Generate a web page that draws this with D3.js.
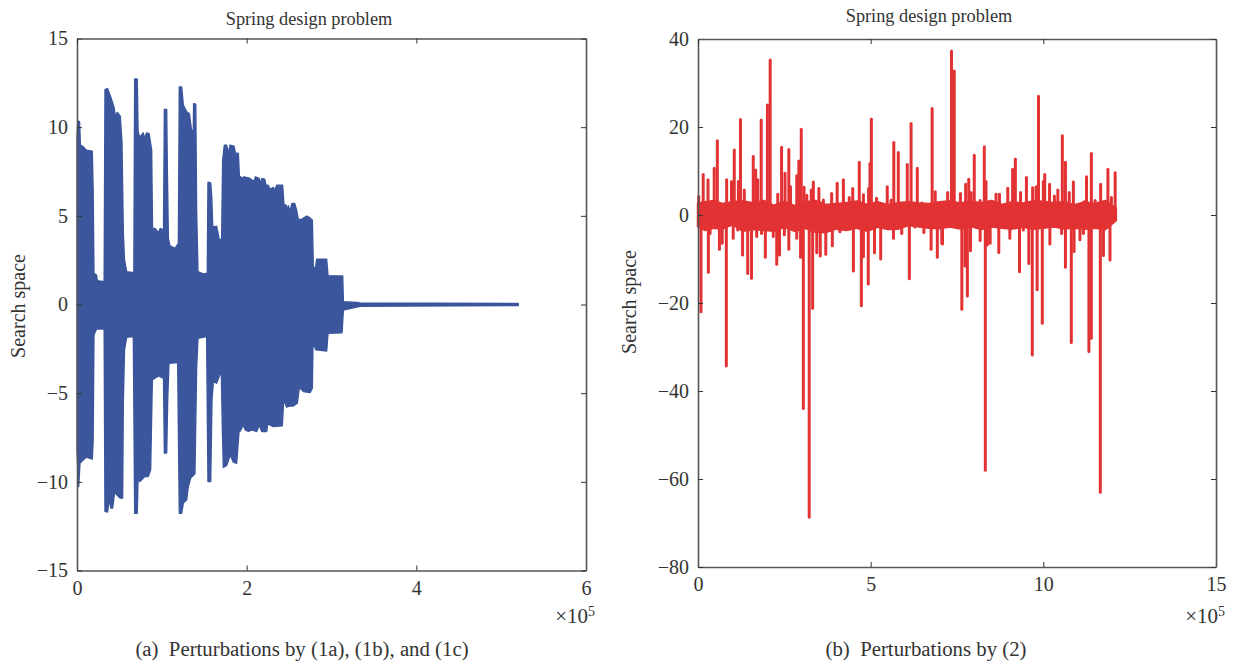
<!DOCTYPE html>
<html>
<head>
<meta charset="utf-8">
<script src="https://cdn.jsdelivr.net/npm/d3@7"></script>
<style>
  html, body { margin: 0; background: #fff; }
  text { font-family: "Liberation Serif", serif; fill: #333; }
</style>
</head>
<body>
<div id="chart"></div>
<script>
// (a) upper and lower envelope of the perturbation trace, [x in 1e5, value]
const upperEnvelope = [[0,1],[0,7.95],[0,9.46],[.01,10.36],[.03,10.3],[.04,8.99],[.075,8.89],[.11,8.7],[.18,8.65],[.19,6.45],[.2,1.76],[.23,1.66],[.24,1.34],[.32,1.29],[.33,12.12],[.36,12.18],[.39,11.8],[.41,11.52],[.44,11.05],[.45,10.62],[.475,10.83],[.51,10.62],[.53,9.17],[.546,4.01],[.56,2.51],[.585,1.85],[.67,1.79],[.68,12.72],[.71,12.72],[.72,9.74],[.74,9.42],[.78,9.68],[.8,9.36],[.82,9.68],[.85,9.64],[.88,8.7],[.89,4.29],[.92,4.29],[.96,4.05],[.98,4.29],[1.02,4.2],[1.03,11],[1.057,11],[1.065,7.58],[1.077,3.73],[1.096,3.31],[1.155,3.16],[1.195,3.45],[1.206,12.27],[1.234,12.27],[1.253,11.24],[1.293,10.86],[1.324,10.77],[1.352,9.77],[1.371,9.83],[1.375,11.33],[1.4,11.3],[1.41,5.32],[1.426,1.85],[1.489,1.72],[1.536,1.76],[1.544,6.9],[1.576,6.86],[1.588,6.08],[1.6,4.38],[1.646,4.42],[1.678,3.64],[1.705,3.68],[1.717,8.14],[1.737,8.99],[1.764,8.99],[1.784,8.52],[1.804,8.99],[1.851,8.93],[1.866,8.55],[1.902,8.52],[1.914,7.24],[1.953,7.11],[1.969,7.2],[2.04,7.11],[2.086,6.92],[2.102,7.2],[2.149,7.11],[2.165,6.83],[2.181,7.11],[2.212,7.07],[2.228,6.73],[2.255,6.73],[2.275,6.49],[2.314,6.6],[2.334,6.45],[2.354,6.73],[2.424,6.73],[2.44,5.61],[2.464,5.61],[2.472,5.32],[2.491,5.57],[2.511,5.23],[2.534,5.7],[2.566,5.7],[2.589,5.32],[2.609,4.8],[2.648,4.8],[2.707,4.99],[2.739,4.91],[2.774,4.76],[2.786,2.09],[2.813,2.09],[2.825,2.56],[2.943,2.56],[2.959,1.62],[3.132,1.61],[3.14,.16],[3.297,.12],[3.336,.09],[5.2,.06]];
const lowerEnvelope = [[0,-1],[0,-6.51],[0,-8.29],[.02,-10.26],[.035,-8.95],[.075,-8.76],[.11,-8.61],[.18,-8.72],[.19,-7.73],[.2,-1.72],[.23,-1.38],[.32,-1.38],[.33,-11.67],[.36,-11.71],[.38,-10.98],[.4,-11.48],[.42,-11.48],[.444,-10.54],[.468,-10.73],[.51,-10.92],[.538,-10.92],[.546,-5.47],[.56,-2.56],[.585,-1.85],[.664,-1.81],[.68,-11.77],[.71,-11.77],[.72,-9.79],[.74,-9.98],[.8,-9.7],[.84,-9.7],[.868,-9.32],[.888,-4.25],[.92,-4.16],[.96,-4.03],[1.02,-4.16],[1.03,-8.38],[1.057,-8.38],[1.069,-5.38],[1.084,-3.31],[1.187,-3.28],[1.195,-6.98],[1.206,-11.77],[1.234,-11.77],[1.253,-11.2],[1.293,-11.01],[1.312,-10.26],[1.34,-9.79],[1.39,-9.55],[1.41,-3.6],[1.426,-1.91],[1.528,-1.81],[1.544,-9.98],[1.576,-9.98],[1.591,-5.38],[1.607,-4.35],[1.646,-4.44],[1.701,-3.73],[1.713,-6.88],[1.725,-9.19],[1.764,-9.08],[1.807,-8.48],[1.843,-8.89],[1.882,-8.95],[1.91,-7.16],[1.921,-7.16],[1.961,-6.79],[1.984,-7.07],[2.02,-7.16],[2.059,-7.07],[2.118,-7.16],[2.149,-6.79],[2.177,-7.16],[2.236,-7.16],[2.248,-6.73],[2.314,-6.88],[2.42,-6.84],[2.436,-5.38],[2.472,-5.79],[2.511,-5.72],[2.55,-5.72],[2.597,-5.57],[2.621,-4.67],[2.668,-4.91],[2.747,-4.97],[2.774,-4.72],[2.782,-2.19],[2.817,-2.56],[2.943,-2.62],[2.959,-1.62],[3.124,-1.59],[3.14,-.31],[3.297,-.14],[3.336,-.1],[5.2,-.06]];

// (b) central band [x in 1e5, top, bottom] and the spikes leaving it [x in 1e5, value]
const centralBand = [[0,2.6,-2.6],[.2,2.9,-3.4],[.45,3.2,-2.9],[.7,2.5,-3.1],[1,2.9,-2.1],[1.3,3.1,-3.6],[1.6,2.7,-3.2],[1.9,3.2,-3.4],[2.2,2.1,-3.6],[2.5,3,-2.7],[2.8,2,-3.6],[3.1,2.9,-2.9],[3.4,3.2,-3.8],[3.7,2.3,-3.9],[4,2.5,-3.1],[4.3,2.7,-3.4],[4.6,3.1,-2.9],[4.9,2.3,-3.6],[5.2,2.9,-2.7],[5.5,2.2,-3.2],[5.8,2.7,-3.1],[6.1,2.9,-2.3],[6.4,2.6,-2.6],[6.7,2.5,-2.9],[7,2.9,-3],[7.3,3.1,-2.6],[7.6,2.6,-3.1],[7.9,3.1,-2.5],[8.2,2.7,-3.2],[8.5,3.2,-2.6],[8.8,2.3,-2.9],[9.1,2.9,-3.1],[9.4,2.6,-2.7],[9.7,3.1,-3.1],[10,3,-2.9],[10.3,2.7,-2.6],[10.6,2.9,-3],[10.9,2.2,-2.9],[11.2,2.9,-3.1],[11.5,2.5,-2.9],[11.8,3.2,-3.2],[12.1,1.5,-1.2]];
const upSpikes = [[.02,4.2],[.15,9.2],[.29,8],[.47,10.6],[.56,16.9],[.83,8],[.97,7.6],[1.05,14.8],[1.17,7.6],[1.23,21.7],[1.34,5.7],[1.6,13.3],[1.67,10.2],[1.73,8],[1.83,21.6],[2.01,25],[2.09,35.2],[2.31,4.7],[2.42,15.4],[2.52,9.5],[2.63,14.9],[2.68,6.4],[2.86,8.9],[2.92,12.3],[2.99,19.5],[3.07,6.3],[3.15,4.5],[3.28,5.7],[3.34,7.5],[3.5,6],[3.63,3.4],[3.87,4.9],[4.03,7.2],[4.21,8],[4.38,4],[4.48,6],[4.67,12],[4.79,4.6],[4.94,6],[4.98,11.7],[5.02,21.8],[5.17,3.8],[5.48,6.4],[5.59,3.4],[5.67,16.5],[5.8,14.2],[6.06,11.5],[6.17,20.8],[6.35,10.6],[6.48,2.7],[6.78,24.2],[6.87,5.3],[7.23,5.1],[7.34,37.3],[7.42,32.7],[7.6,4.9],[7.75,7],[7.84,8.1],[7.91,5.1],[8,13.6],[8.17,3.3],[8.29,15.5],[8.34,7.6],[8.63,4.7],[8.73,4.7],[8.97,6.1],[9.11,10.4],[9.19,12.7],[9.34,5.1],[9.51,8.5],[9.69,6.2],[9.79,6.4],[9.86,27],[10,7.6],[10.04,9.2],[10.18,7],[10.32,4.3],[10.42,5.7],[10.55,18],[10.64,12],[10.75,5.1],[10.87,7.5],[11.18,3],[11.25,8.7],[11.39,14],[11.5,3.3],[11.66,7],[11.87,10.4],[11.97,4],[12.08,9.6]];
const downSpikes = [[.087,-21.97],[.3,-13],[.35,-4.2],[.62,-7.8],[.7,-6.4],[.82,-34.3],[1.02,-5.3],[1.15,-3.4],[1.29,-9.1],[1.44,-13.3],[1.55,-14.4],[1.7,-4.9],[1.84,-4.2],[1.95,-9.6],[2.18,-4.9],[2.28,-11.2],[2.36,-9.1],[2.5,-4.5],[2.63,-7.8],[2.86,-5.3],[2.97,-9.6],[3.05,-44],[3.22,-68.7],[3.32,-21.2],[3.44,-8.6],[3.54,-9.3],[3.7,-8.9],[3.89,-7],[4.11,-3.8],[4.5,-12.7],[4.73,-20.6],[4.79,-9.5],[4.93,-15.7],[5.11,-8.6],[5.29,-10],[5.66,-5.3],[5.9,-4.2],[6.12,-14.5],[6.28,-2.7],[6.54,-4],[6.75,-7.8],[6.93,-9.6],[7.06,-6.4],[7.08,-6.6],[7.64,-21.4],[7.73,-11.6],[7.8,-18.4],[7.89,-8.1],[8.17,-5.8],[8.32,-58],[8.38,-6.8],[8.46,-6.4],[8.71,-8.5],[9.03,-5.3],[9.31,-12.9],[9.42,-3.4],[9.58,-11],[9.68,-31.8],[9.82,-17],[9.97,-24.6],[10.19,-6.6],[10.53,-4.2],[10.64,-11.9],[10.81,-29],[10.89,-8.3],[11.06,-5.6],[11.16,-4.2],[11.32,-31],[11.39,-28],[11.65,-63],[11.74,-9.2],[11.93,-10.2]];

const titleText = "Spring design problem";
const yLabelText = "Search space";
const capA = "(a)  Perturbations by (1a), (1b), and (1c)";
const capB = "(b)  Perturbations by (2)";
const ticksAX = [0, 2, 4, 6];
const ticksAY = [-15, -10, -5, 0, 5, 10, 15];
const ticksBX = [0, 5, 10, 15];
const ticksBY = [-80, -60, -40, -20, 0, 20, 40];

const BLUE = "#3b569d";
const RED = "#e23234";
const fmt = d => (d < 0 ? "\u2212" + Math.abs(d) : "" + d);

const svg = d3.select("#chart").append("svg")
  .attr("width", 1241).attr("height", 665)
  .style("display", "block");

// frame, mirrored ticks and the texts shared by both panels
function drawPanel(box, xDomain, yDomain, xTicks, yTicks, o) {
  const x = d3.scaleLinear().domain(xDomain).range([box.left, box.right]);
  const y = d3.scaleLinear().domain(yDomain).range([box.bottom, box.top]);
  const g = svg.append("g");
  const marks = g.append("g");

  const styleAxis = sel => {
    sel.select(".domain").attr("stroke", "#555").attr("stroke-width", 1.6);
    sel.selectAll(".tick line").attr("stroke", "#333").attr("stroke-width", 1);
    sel.selectAll("text").style("font-size", "20px");
  };
  g.append("g").attr("transform", `translate(0,${box.bottom})`)
    .call(d3.axisBottom(x).tickValues(xTicks).tickSize(-5).tickSizeOuter(0).tickPadding(10).tickFormat(fmt))
    .call(styleAxis);
  g.append("g").attr("transform", `translate(${box.left},0)`)
    .call(d3.axisLeft(y).tickValues(yTicks).tickSize(-5).tickSizeOuter(0).tickPadding(9).tickFormat(fmt))
    .call(styleAxis);
  g.append("g").attr("transform", `translate(0,${box.top})`)
    .call(d3.axisTop(x).tickValues(xTicks).tickSize(-5).tickSizeOuter(0).tickFormat(""))
    .call(styleAxis);
  g.append("g").attr("transform", `translate(${box.right},0)`)
    .call(d3.axisRight(y).tickValues(yTicks).tickSize(-5).tickSizeOuter(0).tickFormat(""))
    .call(styleAxis);

  g.append("text").attr("x", o.titleX).attr("y", o.titleY)
    .attr("text-anchor", "middle").style("font-size", "18.3px").text(titleText);
  g.append("text").attr("transform", `translate(${o.labelX},${o.labelY}) rotate(-90)`)
    .attr("text-anchor", "middle").style("font-size", "20px").text(yLabelText);
  const mult = g.append("text").attr("x", box.right + 9).attr("y", 623)
    .attr("text-anchor", "end").style("font-size", "21px");
  mult.append("tspan").text("\u00d710");
  mult.append("tspan").attr("dy", -7).style("font-size", "14px").text("5");
  g.append("text").attr("x", o.capX).attr("y", 656)
    .attr("text-anchor", "middle").style("font-size", "20.8px")
    .style("white-space", "pre").text(o.cap);

  return { x, y, marks };
}

// panel a
const a = drawPanel({ left: 77, right: 586, top: 38.5, bottom: 570.5 }, [0, 6], [-15, 15], ticksAX, ticksAY,
  { titleX: 309, titleY: 25, labelX: 25, labelY: 306, capX: 302, cap: capA });

const envelope = d3.area().x(d => a.x(d[0])).y0(a.y(0)).y1(d => a.y(d[1]));
[upperEnvelope, lowerEnvelope].forEach(rows => {
  a.marks.append("path")
    .datum(rows)
    .attr("d", envelope)
    .attr("fill", BLUE).attr("stroke", BLUE).attr("stroke-width", 1.4)
    .attr("stroke-linejoin", "round");
});

// panel b
const b = drawPanel({ left: 698, right: 1216, top: 39, bottom: 567 }, [0, 15], [-80, 40], ticksBX, ticksBY,
  { titleX: 929, titleY: 22, labelX: 636, labelY: 302, capX: 926, cap: capB });

const band = d3.area().x(d => b.x(d[0])).y0(d => b.y(d[2])).y1(d => b.y(d[1]));
b.marks.append("path")
  .datum(centralBand)
  .attr("d", band)
  .attr("fill", RED).attr("stroke", RED).attr("stroke-width", 2.5)
  .attr("stroke-linejoin", "round");

b.marks.selectAll("line.spike").data(upSpikes.concat(downSpikes)).enter().append("line")
  .attr("class", "spike")
  .attr("x1", d => b.x(d[0])).attr("x2", d => b.x(d[0]))
  .attr("y1", b.y(0)).attr("y2", d => b.y(d[1]))
  .attr("stroke", RED).attr("stroke-width", 3)
  .attr("stroke-linecap", "round");
</script>
</body>
</html>
